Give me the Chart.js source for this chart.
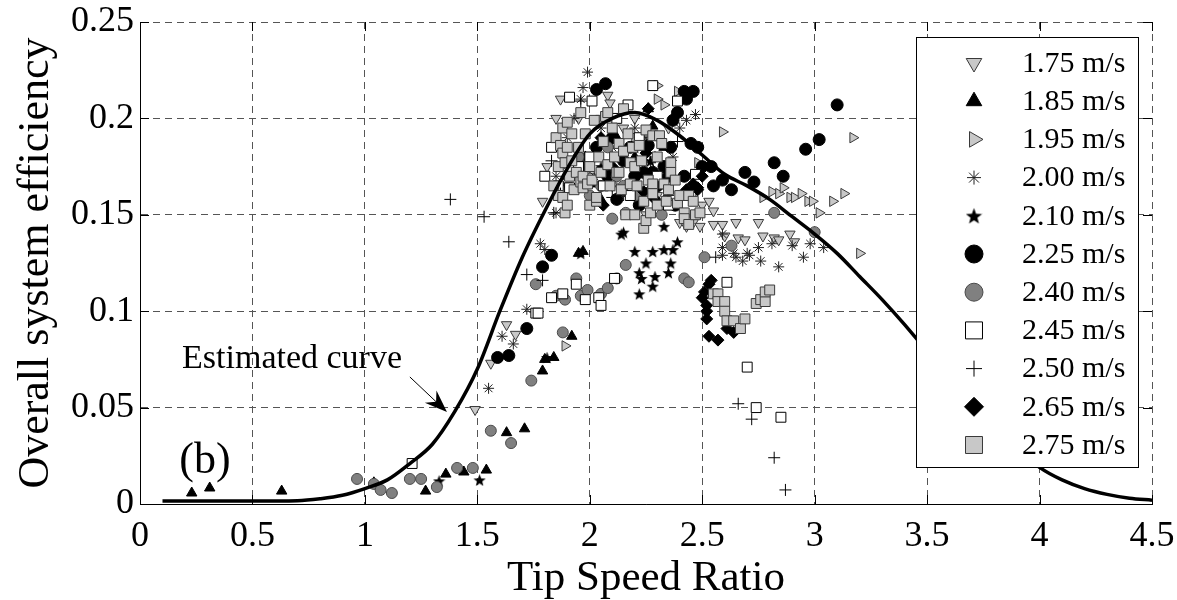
<!DOCTYPE html>
<html><head><meta charset="utf-8">
<script src="https://cdn.jsdelivr.net/npm/chart.js@4.4.1/dist/chart.umd.min.js"></script>
<style>html,body{margin:0;padding:0;background:#fff;}#wrap{width:1177px;height:600px;}</style>
</head><body><div id="wrap"><canvas id="c" width="1177" height="600"></canvas></div>
<script>
// ---------------- DATA ----------------
const xTickValues = [0,0.5,1,1.5,2,2.5,3,3.5,4,4.5];
const xTickLabels = ['0','0.5','1','1.5','2','2.5','3','3.5','4','4.5'];
const yTickValues = [0,0.05,0.1,0.15,0.2,0.25];
const yTickLabels = ['0','0.05','0.1','0.15','0.2','0.25'];
const seriesLabels = ['1.75 m/s','1.85 m/s','1.95 m/s','2.00 m/s','2.10 m/s','2.25 m/s','2.40 m/s','2.45 m/s','2.50 m/s','2.65 m/s','2.75 m/s'];

const v175 = [[1.49,0.049],[1.56,0.073],[1.63,0.093],[1.67,0.088],[1.79,0.157],[1.81,0.175],[1.85,0.2],[1.87,0.210],[1.9,0.165],[1.95,0.2],[2.0,0.17],[2.05,0.2],[2.08,0.212],[2.09,0.208],[2.1,0.165],[2.15,0.195],[2.2,0.2],[2.25,0.15],[2.3,0.16],[2.35,0.195],[2.40,0.146],[2.43,0.144],[2.46,0.146],[2.49,0.144],[2.50,0.155],[2.53,0.157],[2.55,0.152],[2.55,0.145],[2.59,0.145],[2.60,0.139],[2.65,0.146],[2.66,0.138],[2.69,0.137],[2.75,0.146],[2.77,0.139],[2.82,0.138],[2.84,0.137],[2.89,0.140],[2.91,0.136]];
const v185 = [[0.23,0.0057],[0.31,0.0083],[0.63,0.0067],[1.04,0.011],[1.27,0.0067],[1.36,0.0155],[1.44,0.0166],[1.54,0.0176],[1.63,0.037],[1.71,0.039],[1.79,0.069],[1.80,0.075],[1.84,0.076],[1.92,0.087],[1.95,0.130],[1.97,0.131],[2.02,0.166],[2.05,0.158],[2.08,0.166],[2.12,0.19],[2.15,0.205],[2.2,0.18],[2.26,0.205],[2.28,0.196],[2.33,0.185],[2.40,0.159],[2.45,0.162],[1.9,0.17],[1.98,0.18]];
const v195 = [[1.89,0.082],[2.0,0.16],[2.2,0.19],[2.30,0.217],[2.30,0.210],[2.33,0.207],[2.39,0.214],[2.48,0.177],[2.59,0.193],[2.77,0.159],[2.81,0.162],[2.84,0.161],[2.86,0.164],[2.89,0.159],[2.91,0.159],[2.94,0.161],[2.97,0.157],[2.99,0.157],[3.02,0.151],[3.08,0.157],[3.13,0.161],[3.17,0.190],[3.20,0.130]];
const v200 = [[1.55,0.060],[1.61,0.087],[1.66,0.083],[1.72,0.101],[1.78,0.135],[1.80,0.132],[1.85,0.151],[1.85,0.17],[1.88,0.175],[1.9,0.19],[1.93,0.2],[1.96,0.210],[1.97,0.216],[1.99,0.224],[2.02,0.17],[2.05,0.195],[2.1,0.185],[2.15,0.16],[2.2,0.195],[2.25,0.19],[2.27,0.177],[2.35,0.16],[2.37,0.180],[2.40,0.195],[2.43,0.199],[2.47,0.202],[2.59,0.140],[2.59,0.133],[2.59,0.129],[2.64,0.130],[2.65,0.128],[2.68,0.126],[2.70,0.130],[2.71,0.129],[2.75,0.133],[2.76,0.126],[2.81,0.135],[2.84,0.123],[2.90,0.134],[2.95,0.128],[2.98,0.135],[3.04,0.133]];
const v210 = [[1.33,0.012],[1.51,0.0125],[1.81,0.076],[1.96,0.130],[2.05,0.175],[2.14,0.14],[2.15,0.141],[2.20,0.131],[2.2,0.185],[2.22,0.120],[2.22,0.109],[2.23,0.117],[2.25,0.125],[2.27,0.178],[2.28,0.131],[2.28,0.113],[2.29,0.118],[2.33,0.132],[2.33,0.144],[2.35,0.120],[2.36,0.125],[2.37,0.132],[2.39,0.136]];
const v225 = [[1.59,0.076],[1.64,0.077],[1.72,0.091],[1.79,0.123],[1.83,0.129],[1.98,0.175],[2.03,0.215],[2.07,0.218],[2.03,0.185],[2.08,0.17],[2.1,0.19],[2.15,0.178],[2.18,0.185],[2.2,0.17],[2.22,0.155],[2.24,0.172],[2.26,0.186],[2.28,0.172],[2.3,0.165],[2.33,0.175],[2.35,0.17],[2.36,0.185],[2.37,0.199],[2.38,0.155],[2.39,0.203],[2.42,0.214],[2.42,0.17],[2.43,0.21],[2.46,0.214],[2.45,0.187],[2.48,0.185],[2.50,0.175],[2.54,0.175],[2.55,0.165],[2.59,0.168],[2.63,0.163],[2.69,0.172],[2.73,0.167],[2.82,0.177],[2.86,0.17],[2.96,0.184],[3.02,0.189],[3.10,0.207],[2.12,0.158]];
const v240 = [[0.965,0.013],[1.04,0.0104],[1.07,0.0073],[1.12,0.0057],[1.20,0.013],[1.25,0.013],[1.32,0.0088],[1.41,0.0187],[1.48,0.0187],[1.56,0.038],[1.65,0.0316],[1.74,0.064],[1.76,0.114],[1.85,0.108],[1.88,0.089],[1.89,0.106],[1.94,0.117],[1.95,0.18],[1.96,0.108],[1.99,0.111],[2.0,0.16],[2.05,0.109],[2.05,0.165],[2.08,0.112],[2.08,0.185],[2.1,0.148],[2.12,0.117],[2.12,0.17],[2.15,0.165],[2.16,0.124],[2.16,0.151],[2.2,0.16],[2.25,0.16],[2.32,0.15],[2.42,0.117],[2.44,0.115],[2.51,0.128],[2.63,0.134],[2.82,0.151],[3.0,0.141]];
const v245 = [[1.21,0.021],[1.76,0.099],[1.77,0.099],[1.8,0.17],[1.83,0.107],[1.83,0.185],[1.86,0.165],[1.88,0.109],[1.91,0.211],[1.91,0.164],[1.94,0.114],[1.95,0.175],[1.98,0.106],[2.0,0.18],[2.01,0.209],[2.04,0.107],[2.05,0.103],[2.06,0.165],[2.11,0.117],[2.12,0.2],[2.17,0.207],[2.18,0.16],[2.22,0.19],[2.28,0.217],[2.3,0.17],[2.35,0.155],[2.39,0.209],[2.45,0.16],[2.47,0.171],[2.61,0.115],[2.70,0.071],[2.74,0.050],[2.85,0.045]];
const v250 = [[1.38,0.158],[1.53,0.149],[1.64,0.136],[1.72,0.119],[1.79,0.116],[1.83,0.178],[1.84,0.151],[1.87,0.161],[1.96,0.209],[2.10,0.159],[2.29,0.180],[2.39,0.188],[2.56,0.128],[2.66,0.052],[2.72,0.044],[2.82,0.024],[2.87,0.0073]];
const v265 = [[2.05,0.19],[2.06,0.155],[2.1,0.175],[2.24,0.162],[2.25,0.182],[2.26,0.205],[2.27,0.163],[2.29,0.158],[2.43,0.163],[2.46,0.166],[2.48,0.164],[2.48,0.163],[2.50,0.170],[2.50,0.107],[2.51,0.110],[2.52,0.103],[2.52,0.100],[2.52,0.096],[2.53,0.114],[2.54,0.116],[2.53,0.087],[2.57,0.085],[2.61,0.091],[2.64,0.089]];
const v275 = [[1.84,0.165],[1.85,0.19],[1.86,0.175],[1.86,0.16],[1.87,0.186],[1.88,0.182],[1.88,0.195],[1.88,0.159],[1.89,0.177],[1.89,0.151],[1.90,0.198],[1.90,0.155],[1.9,0.185],[1.91,0.170],[1.92,0.192],[1.92,0.178],[1.93,0.163],[1.94,0.172],[1.95,0.185],[1.96,0.203],[1.96,0.167],[1.97,0.170],[1.97,0.164],[1.98,0.192],[1.99,0.166],[2.00,0.155],[2.0,0.175],[2.01,0.168],[2.02,0.199],[2.03,0.157],[2.03,0.159],[2.04,0.18],[2.05,0.172],[2.06,0.188],[2.07,0.201],[2.08,0.203],[2.08,0.176],[2.09,0.165],[2.1,0.195],[2.11,0.18],[2.12,0.172],[2.13,0.187],[2.13,0.172],[2.14,0.163],[2.15,0.183],[2.15,0.205],[2.16,0.150],[2.17,0.192],[2.18,0.177],[2.18,0.166],[2.19,0.185],[2.20,0.150],[2.2,0.175],[2.21,0.165],[2.22,0.186],[2.23,0.178],[2.24,0.143],[2.24,0.157],[2.25,0.194],[2.25,0.147],[2.26,0.168],[2.27,0.151],[2.28,0.191],[2.28,0.166],[2.28,0.161],[2.30,0.155],[2.3,0.18],[2.31,0.191],[2.32,0.187],[2.33,0.166],[2.34,0.157],[2.35,0.163],[2.36,0.177],[2.36,0.172],[2.38,0.168],[2.39,0.156],[2.4,0.16],[2.42,0.151],[2.42,0.148],[2.44,0.145],[2.44,0.16],[2.46,0.157],[2.47,0.15],[2.49,0.151],[2.55,0.109],[2.57,0.109],[2.57,0.105],[2.60,0.105],[2.60,0.100],[2.61,0.095],[2.64,0.095],[2.67,0.091],[2.69,0.096],[2.74,0.104],[2.76,0.106],[2.78,0.105],[2.78,0.110],[2.80,0.111]];

const curveX = [0.1,0.3,0.5,0.7,0.8,0.9,1.0,1.1,1.2,1.3,1.4,1.5,1.6,1.7,1.8,1.9,2.0,2.1,2.2,2.3,2.4,2.5,2.6,2.7,2.8,2.9,3.0,3.1,3.2,3.3,3.4,3.5,3.6,3.8,4.0,4.1,4.2,4.3,4.4,4.5];
const curveY = [0.0015,0.0015,0.0015,0.0017,0.0027,0.0045,0.008,0.0125,0.021,0.031,0.048,0.07,0.1,0.128,0.152,0.174,0.192,0.2,0.203,0.199,0.191,0.181,0.171,0.165,0.158,0.149,0.140,0.130,0.118,0.106,0.093,0.079,0.064,0.039,0.019,0.0125,0.008,0.005,0.003,0.002];

// ---------------- STYLES ----------------
const FONT = "'Liberation Serif','Times New Roman',serif";
function starCanvas(size){
  const c = document.createElement('canvas'); c.width = size; c.height = size;
  const g = c.getContext('2d'); const R = size/2, r = R*0.42;
  g.beginPath();
  for (let i=0;i<10;i++){ const a=-Math.PI/2+i*Math.PI/5; const rr=(i%2)?r:R;
    g.lineTo(R+rr*Math.cos(a), R+0.1*R+rr*Math.sin(a)); }
  g.closePath(); g.fillStyle='#000'; g.fill(); return c;
}
const starSmall = starCanvas(13), starBig = starCanvas(17);
const LG = '#c8c8c8', DK = '#3a3a3a';
const styles = [
  {ps:'triangle', rot:180, r:6, bg:LG, bc:DK, lr:9},
  {ps:'triangle', rot:0, r:6, bg:'#000', bc:'#000', lr:9},
  {ps:'triangle', rot:90, r:6, bg:LG, bc:DK, lr:9},
  {ps:'star', rot:0, r:5.5, bg:'#222', bc:'#222', lr:7},
  {ps:starSmall, legendImg:starBig, rot:0, r:6, bg:'#000', bc:'#000', lr:8},
  {ps:'circle', rot:0, r:6, bg:'#000', bc:'#000', lr:9},
  {ps:'circle', rot:0, r:5.5, bg:'#808080', bc:'#4a4a4a', lr:9},
  {ps:'rect', rot:0, r:7, bg:'#fff', bc:'#000', lr:12},
  {ps:'cross', rot:0, r:6, bg:'#000', bc:'#000', lr:8},
  {ps:'rectRot', rot:0, r:6, bg:'#000', bc:'#000', lr:9.5},
  {ps:'rect', rot:0, r:7, bg:LG, bc:DK, lr:12}
];
const seriesData = [v175,v185,v195,v200,v210,v225,v240,v245,v250,v265,v275];

const datasets = [{
  label:'Estimated curve',
  data: curveX.map((x,i)=>({x:x, y:curveY[i]})),
  showLine:true, borderColor:'#000', borderWidth:3.5, pointRadius:0,
  cubicInterpolationMode:'monotone', fill:false, order:-1
}];
seriesData.forEach((arr,i)=>{
  const s = styles[i];
  datasets.push({
    label: seriesLabels[i],
    data: arr.map(p=>({x:p[0], y:p[1]})),
    pointStyle: s.ps, pointRotation: s.rot, pointRadius: s.r,
    pointBackgroundColor: s.bg, pointBorderColor: s.bc, pointBorderWidth: 1,
    showLine:false, order: 20 - i
  });
});

function drawMarker(ctx, s, x, y){
  const r = s.lr;
  ctx.save(); ctx.fillStyle = s.bg; ctx.strokeStyle = s.bc; ctx.lineWidth = 1;
  if (s.legendImg){ ctx.drawImage(s.legendImg, x - s.legendImg.width/2, y - s.legendImg.height/2); ctx.restore(); return; }
  ctx.beginPath();
  if (s.ps === 'triangle'){
    let rad = s.rot*Math.PI/180;
    for (let k=0;k<3;k++){ ctx.lineTo(x+Math.sin(rad)*r, y-Math.cos(rad)*r); rad += 2*Math.PI/3; }
    ctx.closePath(); ctx.fill(); ctx.stroke();
  } else if (s.ps === 'circle'){
    ctx.arc(x,y,r,0,Math.PI*2); ctx.fill(); ctx.stroke();
  } else if (s.ps === 'rect'){
    const h = r*Math.SQRT1_2; ctx.rect(x-h,y-h,2*h,2*h); ctx.fill(); ctx.stroke();
  } else if (s.ps === 'rectRot'){
    ctx.moveTo(x,y-r); ctx.lineTo(x+r,y); ctx.lineTo(x,y+r); ctx.lineTo(x-r,y); ctx.closePath(); ctx.fill(); ctx.stroke();
  } else if (s.ps === 'cross'){
    ctx.moveTo(x-r,y); ctx.lineTo(x+r,y); ctx.moveTo(x,y-r); ctx.lineTo(x,y+r); ctx.stroke();
  } else if (s.ps === 'star'){
    for (let k=0;k<4;k++){ const a=k*Math.PI/4; ctx.moveTo(x-Math.cos(a)*r,y-Math.sin(a)*r); ctx.lineTo(x+Math.cos(a)*r,y+Math.sin(a)*r); }
    ctx.stroke();
  }
  ctx.restore();
}

const decor = {
  id:'decor',
  afterDatasetsDraw(chart){
    const ctx = chart.ctx, a = chart.chartArea, xs = chart.scales.x, ys = chart.scales.y;
    ctx.save();
    ctx.strokeStyle = '#000'; ctx.lineWidth = 1; ctx.beginPath();
    xTickValues.forEach(v=>{ const px = Math.round(xs.getPixelForValue(v))+0.5;
      ctx.moveTo(px,a.bottom); ctx.lineTo(px,a.bottom-9); ctx.moveTo(px,a.top); ctx.lineTo(px,a.top+9); });
    yTickValues.forEach(v=>{ const py = Math.round(ys.getPixelForValue(v))+0.5;
      ctx.moveTo(a.left,py); ctx.lineTo(a.left+9,py); ctx.moveTo(a.right,py); ctx.lineTo(a.right-9,py); });
    ctx.stroke();
    ctx.fillStyle = '#000';
    ctx.font = '34px ' + FONT; ctx.textBaseline = 'alphabetic'; ctx.textAlign = 'left';
    ctx.fillText('Estimated curve', xs.getPixelForValue(0.187), ys.getPixelForValue(0.0705));
    ctx.font = '44px ' + FONT;
    ctx.fillText('(b)', xs.getPixelForValue(0.175), ys.getPixelForValue(0.016));
    const x1 = xs.getPixelForValue(1.20), y1 = ys.getPixelForValue(0.0659);
    const x2 = xs.getPixelForValue(1.365), y2 = ys.getPixelForValue(0.0477);
    const ang = Math.atan2(y2-y1, x2-x1);
    ctx.beginPath(); ctx.moveTo(x1,y1); ctx.lineTo(x2 - Math.cos(ang)*10, y2 - Math.sin(ang)*10); ctx.stroke();
    ctx.beginPath(); ctx.moveTo(x2,y2);
    ctx.lineTo(x2 - Math.cos(ang-0.36)*24, y2 - Math.sin(ang-0.36)*24);
    ctx.lineTo(x2 - Math.cos(ang)*15, y2 - Math.sin(ang)*15);
    ctx.lineTo(x2 - Math.cos(ang+0.36)*24, y2 - Math.sin(ang+0.36)*24);
    ctx.closePath(); ctx.fill();
    const bw = 222, bh = 430;
    const bx = a.right - 14 - bw, by = a.top + 15;
    ctx.fillStyle = '#fff'; ctx.fillRect(bx, by, bw, bh);
    ctx.strokeStyle = '#000'; ctx.lineWidth = 1; ctx.strokeRect(bx+0.5, by+0.5, bw, bh);
    ctx.font = '30px ' + FONT; ctx.textBaseline = 'middle'; ctx.fillStyle = '#000';
    styles.forEach((s,i)=>{
      const cy = by + 26 + i*38.2;
      drawMarker(ctx, s, bx + 58, cy);
      ctx.fillStyle = '#000';
      ctx.fillText(seriesLabels[i], bx + 106, cy + 1);
    });
    ctx.restore();
  }
};

new Chart(document.getElementById('c'), {
  type:'scatter',
  data:{datasets},
  options:{
    responsive:false, animation:false, devicePixelRatio:1, events:[],
    layout:{padding:{top:22, right:25, left:0, bottom:0}},
    plugins:{legend:{display:false}, tooltip:{enabled:false}},
    scales:{
      x:{
        type:'linear', min:0, max:4.5,
        afterBuildTicks(s){ s.ticks = xTickValues.map(v=>({value:v})); },
        afterFit(s){ s.height = 96; s.paddingLeft = 0; s.paddingRight = 0; },
        ticks:{ autoSkip:false, maxRotation:0, color:'#000', padding:11, font:{family:FONT, size:36},
          callback:(v)=>{ const i = xTickValues.indexOf(v); return i>=0 ? xTickLabels[i] : ''; } },
        grid:{ color:'#555', lineWidth:1, drawTicks:false },
        border:{ display:true, color:'#000', width:1, dash:[7,5] },
        title:{ display:true, text:'Tip Speed Ratio', color:'#000', font:{family:FONT, size:43, lineHeight:1}, padding:{top:0,bottom:0} }
      },
      y:{
        type:'linear', min:0, max:0.25,
        afterBuildTicks(s){ s.ticks = yTickValues.map(v=>({value:v})); },
        afterFit(s){ s.width = 140; s.paddingTop = 0; s.paddingBottom = 0; },
        ticks:{ autoSkip:false, color:'#000', padding:6, font:{family:FONT, size:36},
          callback:(v)=>{ const i = yTickValues.indexOf(v); return i>=0 ? yTickLabels[i] : ''; } },
        grid:{ color:'#555', lineWidth:1, drawTicks:false },
        border:{ display:true, color:'#000', width:1, dash:[7,5] },
        title:{ display:true, text:'Overall system efficiency', color:'#000', font:{family:FONT, size:44, lineHeight:1}, padding:{top:14,bottom:0} }
      }
    }
  },
  plugins:[decor]
});
</script></body></html>
